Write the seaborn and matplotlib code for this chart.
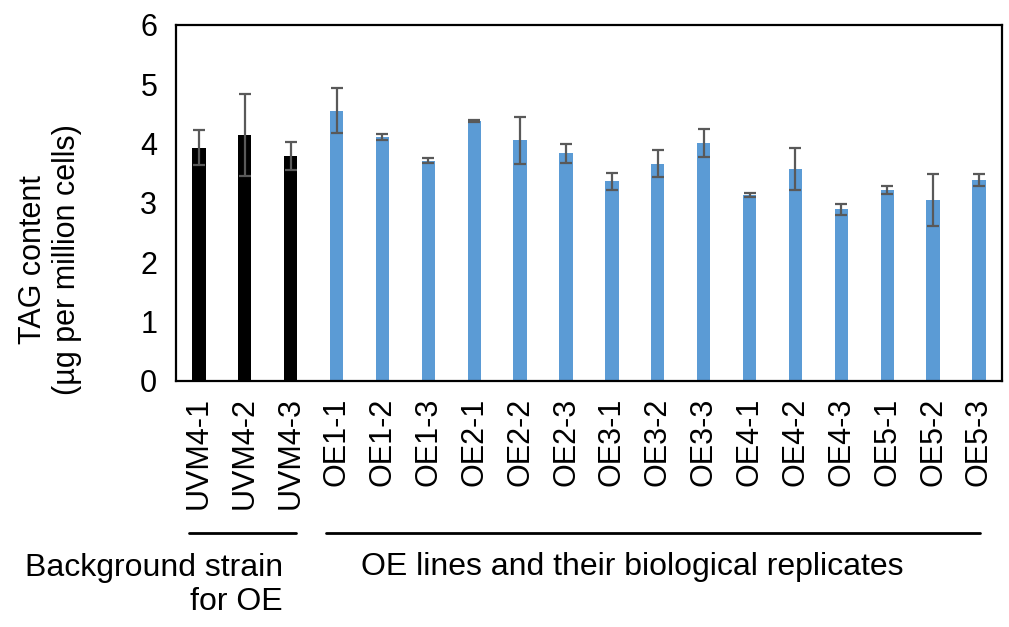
import numpy as np
import pandas as pd
import matplotlib
matplotlib.use("Agg")
import matplotlib.pyplot as plt
import matplotlib.transforms as mtransforms
from matplotlib.lines import Line2D
import seaborn as sns

# data
strains = ["UVM4-1", "UVM4-2", "UVM4-3",
           "OE1-1", "OE1-2", "OE1-3",
           "OE2-1", "OE2-2", "OE2-3",
           "OE3-1", "OE3-2", "OE3-3",
           "OE4-1", "OE4-2", "OE4-3",
           "OE5-1", "OE5-2", "OE5-3"]
tag_content = [3.93, 4.14, 3.79,
               4.55, 4.10, 3.71,
               4.38, 4.05, 3.83,
               3.36, 3.66, 4.01,
               3.13, 3.57, 2.89,
               3.21, 3.04, 3.38]
tag_err = [0.29, 0.69, 0.24,
           0.38, 0.05, 0.045,
           0.02, 0.39, 0.16,
           0.14, 0.23, 0.24,
           0.035, 0.35, 0.09,
           0.07, 0.44, 0.10]
group = ["Background"] * 3 + ["OE"] * 15
group_colors = {"Background": "#000000", "OE": "#5B9BD5"}

df = pd.DataFrame({"strain": strains, "tag": tag_content,
                   "err": tag_err, "group": group})

sns.set_style("white")
plt.rcParams["font.family"] = ["Liberation Sans", "DejaVu Sans"]
plt.rcParams["text.color"] = "black"
plt.rcParams["axes.labelcolor"] = "black"
plt.rcParams["xtick.color"] = "black"
plt.rcParams["ytick.color"] = "black"
fs = 22

fig = plt.figure(figsize=(10.09, 6.27), dpi=100)
ax = fig.add_axes([0.1744, 0.3928, 0.8186, 0.5678])

sns.barplot(data=df, x="strain", y="tag", hue="group", palette=group_colors,
            dodge=False, width=0.29, linewidth=0, saturation=1,
            legend=False, ax=ax)
ax.errorbar(np.arange(len(df)), df["tag"], yerr=df["err"], fmt="none",
            ecolor="#595959", elinewidth=1.6, capsize=4.5, capthick=1.6)

ax.set_ylim(0, 6)
ax.set_xlim(-0.5, len(df) - 0.5)
ax.set_yticks(range(0, 7))
ax.set_xlabel("")
ax.set_ylabel("TAG content\n(µg per million cells)", fontsize=fs,
              ha="center", va="center", linespacing=1.15)
ax.yaxis.set_label_coords(-0.1525, 0.339)

for s in ax.spines.values():
    s.set_visible(True)
    s.set_color("black")
    s.set_linewidth(1.6)

ax.tick_params(axis="y", which="major", direction="out", length=6.5,
               width=1.5, colors="black", labelsize=fs, pad=7)
ax.tick_params(axis="x", which="major", length=0, labelsize=fs,
               labelcolor="black", labelrotation=90, pad=12)
ax.set_xticks(np.arange(-0.5, len(df)), minor=True)
ax.tick_params(axis="x", which="minor", direction="out", length=6,
               width=1.5, color="black")
for lab in ax.get_xticklabels():
    lab.set_va("top")
    lab.set_ha("center")

# group brackets under the tick labels
trans = mtransforms.blended_transform_factory(ax.transData, fig.transFigure)
y_line = 1 - 533.3 / 627
for x0, x1 in [(-0.22, 2.11), (2.77, 17.03)]:
    fig.add_artist(Line2D([x0, x1], [y_line, y_line], transform=trans,
                          color="black", linewidth=2))

fig.text(283 / 1009, 1 - 585 / 627, "Background strain\nfor OE", fontsize=23,
         ha="right", va="center", multialignment="right", linespacing=1.15)
fig.text(632 / 1009, 1 - 567 / 627, "OE lines and their biological replicates",
         fontsize=23, ha="center", va="center")

fig.savefig("out.png", dpi=100)
